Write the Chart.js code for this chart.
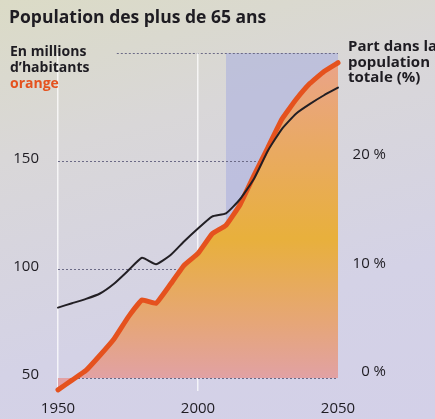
<!DOCTYPE html>
<html><head><meta charset="utf-8">
<script src="https://cdn.jsdelivr.net/npm/chart.js@4/dist/chart.umd.min.js"></script>
<style>
html,body{margin:0;padding:0;background:#d6d4e4;}
#wrap{position:relative;width:435px;height:419px;overflow:hidden;
  background:linear-gradient(165deg,#dbdbc6 0%,#d9d7d8 30%,#d4d2e6 70%,#d3d0e8 100%);}
canvas{display:block}
</style></head><body>
<div id="wrap"><canvas id="c" width="435" height="419"></canvas></div>
<script>
// ---- data ----
const years    = [1950,1955,1960,1965,1970,1975,1980,1985,1990,1995,2000,2005,2010,2015,2020,2025,2030,2035,2040,2045,2050];
const millions = [44.5,49,53.5,60.5,68,78,86,84.5,93,102,107.5,116.5,120.5,130,143.5,156.5,169.5,178.5,186,191.5,195.5];
const sharePct = [6.2,6.6,7.0,7.5,8.4,9.6,10.8,10.2,11.0,12.3,13.5,14.6,14.9,16.2,18.1,20.7,22.7,24.1,25.0,25.8,26.5];
const xTickValues = [1950,2000,2050];
const leftTickValues = [50,100,150];
const rightTickValues = [0,10,20];
const leftMin = 44, leftMax = 200;
const rightMin = -1.5, rightMax = 29.7;
const fillBase = 50;
const projectionFrom = 2010, projectionTo = 2050;
const topLineFrom = 1971;

const titleText = "Population des plus de 65 ans";
const leftTitleLines = ["En millions","d’habitants"];
const leftTitleColorWord = "orange";
const rightTitleLines = ["Part dans la","population","totale (%)"];

const FONT = "'Open Sans', 'Noto Sans', sans-serif";
const INK = "#1e1c22";
const ORANGE = "#e5521e";

const orangePts = years.map((y,i)=>({x:y,y:millions[i]}));
const blackPts  = years.map((y,i)=>({x:y,y:sharePct[i]}));

const decor = {
  id:'decor',
  beforeDraw(chart){
    const {ctx, scales:{x,y}} = chart;
    const x0 = x.getPixelForValue(projectionFrom), x1 = x.getPixelForValue(projectionTo);
    const y0 = y.getPixelForValue(leftMax), y1 = y.getPixelForValue(fillBase);
    ctx.save();
    ctx.fillStyle = 'rgba(170,176,222,0.58)';
    ctx.fillRect(x0, y0, x1-x0, y1-y0);
    ctx.strokeStyle = '#6b6a86';
    ctx.lineWidth = 1;
    ctx.setLineDash([2,2]);
    ctx.beginPath();
    ctx.moveTo(x.getPixelForValue(topLineFrom), Math.round(y0)+0.5);
    ctx.lineTo(x1, Math.round(y0)+0.5);
    ctx.stroke();
    ctx.restore();
  },
  afterDraw(chart){
    const {ctx} = chart;
    ctx.save();
    ctx.textBaseline = 'middle';
    ctx.textAlign = 'left';
    ctx.fillStyle = INK;
    ctx.font = "bold 17.5px " + FONT;
    ctx.fillText(titleText, 9, 18);
    ctx.font = "bold 14px " + FONT;
    leftTitleLines.forEach((t,i)=>ctx.fillText(t, 10, 52 + i*16));
    ctx.fillStyle = ORANGE;
    ctx.fillText(leftTitleColorWord, 10, 84);
    ctx.fillStyle = INK;
    ctx.font = "bold 15px " + FONT;
    rightTitleLines.forEach((t,i)=>ctx.fillText(t, 348, 47 + i*15.5));
    ctx.restore();
  }
};

const ctx = document.getElementById('c').getContext('2d');
new Chart(ctx, {
  type:'line',
  data:{
    datasets:[
      { label:'Part dans la population totale (%)', data:blackPts, yAxisID:'y1',
        borderColor:'#221f24', borderWidth:2, pointRadius:0, tension:0.15, fill:false, clip:8,
        borderJoinStyle:'round', borderCapStyle:'round' },
      { label:'En millions d’habitants', data:orangePts, yAxisID:'y',
        borderColor:ORANGE, borderWidth:5, pointRadius:0, tension:0.1, clip:8,
        borderJoinStyle:'round', borderCapStyle:'round',
        fill:{value:fillBase},
        backgroundColor:(c)=>{
          const ch=c.chart, a=ch.chartArea;
          if(!a) return '#e8ad55';
          const g=ch.ctx.createLinearGradient(0,a.top,0,a.bottom);
          g.addColorStop(0,'#eaa38c');
          g.addColorStop(0.3,'#e9aa60');
          g.addColorStop(0.55,'#e8b03c');
          g.addColorStop(0.8,'#e6a678');
          g.addColorStop(1,'#e0a0ae');
          return g;
        } }
    ]
  },
  options:{
    responsive:false, animation:false,
    layout:{padding:{top:53,left:0,right:49,bottom:0}},
    plugins:{legend:{display:false},tooltip:{enabled:false},title:{display:false}},
    scales:{
      x:{type:'linear', min:1950, max:2050,
        afterBuildTicks:(s)=>{s.ticks = xTickValues.map(v=>({value:v}));},
        afterFit:(s)=>{s.height = 25;},
        grid:{color:(c)=> c.tick && c.tick.value===2050 ? 'rgba(0,0,0,0)' : 'rgba(255,255,255,0.75)', lineWidth:1.5, drawTicks:false},
        border:{display:false},
        ticks:{padding:9, color:INK, font:{family:FONT,size:15}, maxRotation:0, callback:(v)=>String(v)}
      },
      y:{position:'left', min:leftMin, max:leftMax,
        afterBuildTicks:(s)=>{s.ticks = leftTickValues.map(v=>({value:v}));},
        afterFit:(s)=>{s.width = 58;},
        grid:{color:'#6b6a86', lineWidth:1, drawTicks:false},
        border:{display:false, dash:[2,2]},
        ticks:{padding:19, labelOffset:-3, color:INK, font:{family:FONT,size:15}}
      },
      y1:{position:'right', min:rightMin, max:rightMax,
        afterBuildTicks:(s)=>{s.ticks = rightTickValues.map(v=>({value:v}));},
        afterFit:(s)=>{s.width = 48;},
        grid:{drawOnChartArea:false, drawTicks:false},
        border:{display:false},
        ticks:{padding:10, crossAlign:'far', labelOffset:-3, color:INK, font:{family:FONT,size:15}, callback:(v)=>v+' %'}
      }
    }
  },
  plugins:[decor]
});
</script>
</body></html>
